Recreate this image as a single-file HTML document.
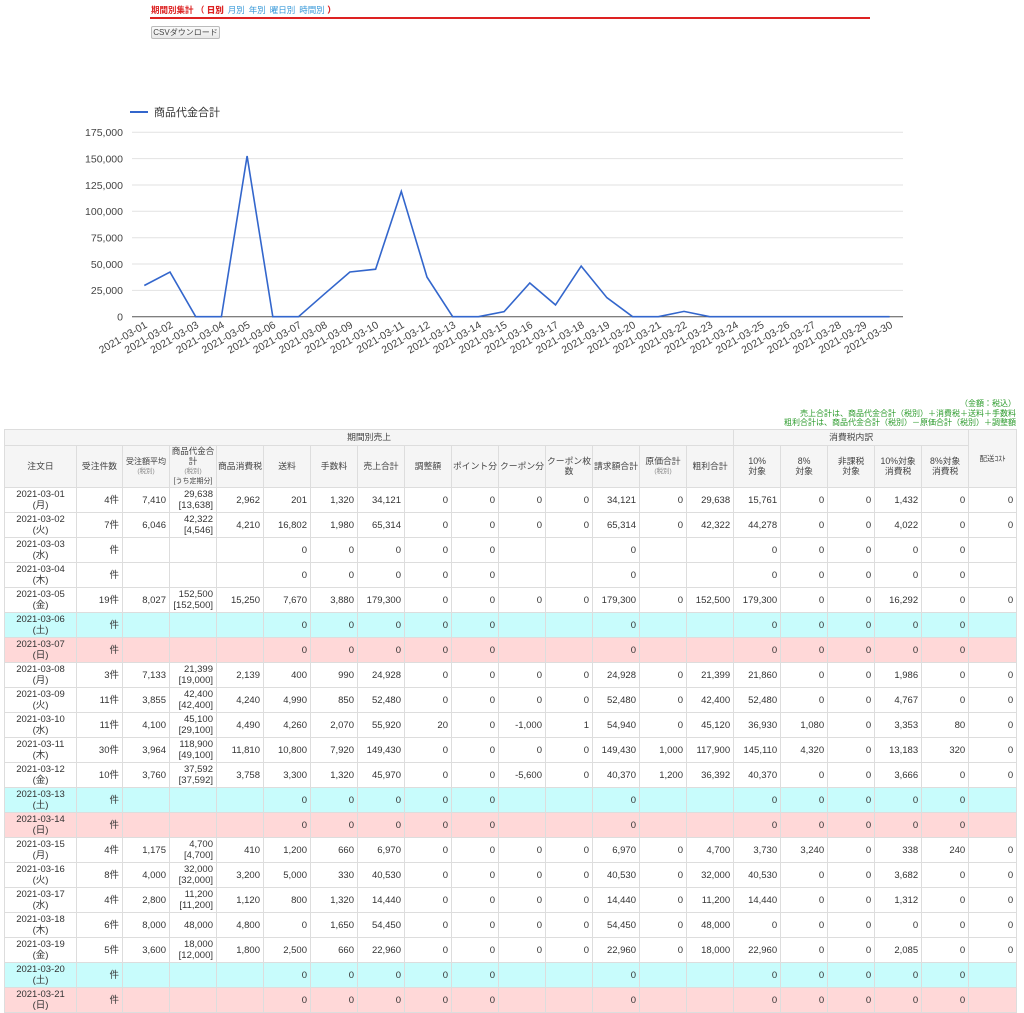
<!DOCTYPE html>
<html><head><meta charset="utf-8">
<style>
body{margin:0;background:#fff;width:1024px;height:990px;overflow:hidden;position:relative;font-family:"Liberation Sans","Noto Sans CJK JP",sans-serif;color:#333}
.nav{position:absolute;left:151px;top:4px;font-size:8.5px;font-weight:bold;color:#d22}
.nav span{color:#3a9ad9;font-weight:normal;margin-left:4px}
.nav b{color:#d22}
.redline{position:absolute;left:150px;top:17px;width:720px;height:2px;background:#d22}
.btn{position:absolute;left:151px;top:26px;width:67px;height:11px;border:1px solid #bbb;border-radius:2px;background:linear-gradient(#fafafa,#e8e8e8);font-size:8px;line-height:11px;text-align:center;color:#444}
.notes{position:absolute;right:8px;top:399px;text-align:right;font-size:8px;line-height:9.5px;color:#2a9a2a}
table{position:absolute;left:4px;top:429px;border-collapse:collapse;table-layout:fixed;width:1012px;font-size:9.5px}
td,th{border:1px solid #ddd;padding:0 3px;overflow:hidden;white-space:nowrap}
th{background:#f5f5f5;font-weight:normal;text-align:center;color:#444;line-height:9.5px;white-space:normal;font-size:8.8px;padding:0 1px}
td{text-align:right;line-height:11px}
td.d{text-align:center}
tr.r td{height:24px}
tr.sa td{background:#c8fcfc}
tr.su td{background:#ffd8d8}
small{font-size:6.5px;color:#888;line-height:8px}
</style></head><body>
<div class="nav">期間別集計 （ <b>日別</b><span>月別</span><span>年別</span><span>曜日別</span><span>時間別</span> <b>）</b></div>
<div class="redline"></div>
<div class="btn">CSVダウンロード</div>

<svg width="1024" height="380" style="position:absolute;left:0;top:0" font-family="Liberation Sans, sans-serif">
<line x1="130" y1="112" x2="148" y2="112" stroke="#3366cc" stroke-width="2"/>
<text x="154" y="116" font-size="11" fill="#333" font-family="Liberation Sans, Noto Sans CJK JP, sans-serif">商品代金合計</text>
<g stroke="#e2e2e2" stroke-width="1">
<line x1="132" x2="903" y1="290.4" y2="290.4"/><line x1="132" x2="903" y1="264" y2="264"/>
<line x1="132" x2="903" y1="237.7" y2="237.7"/><line x1="132" x2="903" y1="211.3" y2="211.3"/>
<line x1="132" x2="903" y1="185" y2="185"/><line x1="132" x2="903" y1="158.6" y2="158.6"/>
<line x1="132" x2="903" y1="132.3" y2="132.3"/>
</g>
<line x1="132" x2="903" y1="316.7" y2="316.7" stroke="#555" stroke-width="1"/>
<g font-size="10.5" fill="#444" text-anchor="end">
<text x="123" y="320.5">0</text><text x="123" y="294.2">25,000</text><text x="123" y="267.8">50,000</text>
<text x="123" y="241.5">75,000</text><text x="123" y="215.1">100,000</text><text x="123" y="188.8">125,000</text>
<text x="123" y="162.4">150,000</text><text x="123" y="136.1">175,000</text>
</g>
<polyline fill="none" stroke="#3366cc" stroke-width="1.6" points="144.3,285.5 170,272.1 195.7,316.7 221.4,316.7 247.1,156 272.8,316.7 298.5,316.7 324.2,294.2 349.9,272 375.6,269.2 401.3,191.4 427,277.1 452.7,316.7 478.4,316.7 504.1,311.7 529.8,283 555.5,304.9 581.2,266.1 606.9,297.7 632.6,316.7 658.3,316.7 684,311.4 709.7,316.7 735.4,316.7 761.1,316.7 786.8,316.7 812.5,316.7 838.2,316.7 863.9,316.7 889.6,316.7"/>
<g font-size="10.5" fill="#444" text-anchor="end">
<text transform="translate(148,327) rotate(-30)">2021-03-01</text>
<text transform="translate(173.7,327) rotate(-30)">2021-03-02</text>
<text transform="translate(199.4,327) rotate(-30)">2021-03-03</text>
<text transform="translate(225.1,327) rotate(-30)">2021-03-04</text>
<text transform="translate(250.8,327) rotate(-30)">2021-03-05</text>
<text transform="translate(276.5,327) rotate(-30)">2021-03-06</text>
<text transform="translate(302.2,327) rotate(-30)">2021-03-07</text>
<text transform="translate(327.9,327) rotate(-30)">2021-03-08</text>
<text transform="translate(353.6,327) rotate(-30)">2021-03-09</text>
<text transform="translate(379.3,327) rotate(-30)">2021-03-10</text>
<text transform="translate(405,327) rotate(-30)">2021-03-11</text>
<text transform="translate(430.7,327) rotate(-30)">2021-03-12</text>
<text transform="translate(456.4,327) rotate(-30)">2021-03-13</text>
<text transform="translate(482.1,327) rotate(-30)">2021-03-14</text>
<text transform="translate(507.8,327) rotate(-30)">2021-03-15</text>
<text transform="translate(533.5,327) rotate(-30)">2021-03-16</text>
<text transform="translate(559.2,327) rotate(-30)">2021-03-17</text>
<text transform="translate(584.9,327) rotate(-30)">2021-03-18</text>
<text transform="translate(610.6,327) rotate(-30)">2021-03-19</text>
<text transform="translate(636.3,327) rotate(-30)">2021-03-20</text>
<text transform="translate(662,327) rotate(-30)">2021-03-21</text>
<text transform="translate(687.7,327) rotate(-30)">2021-03-22</text>
<text transform="translate(713.4,327) rotate(-30)">2021-03-23</text>
<text transform="translate(739.1,327) rotate(-30)">2021-03-24</text>
<text transform="translate(764.8,327) rotate(-30)">2021-03-25</text>
<text transform="translate(790.5,327) rotate(-30)">2021-03-26</text>
<text transform="translate(816.2,327) rotate(-30)">2021-03-27</text>
<text transform="translate(841.9,327) rotate(-30)">2021-03-28</text>
<text transform="translate(867.6,327) rotate(-30)">2021-03-29</text>
<text transform="translate(893.3,327) rotate(-30)">2021-03-30</text>
</g>
</svg>

<div class="notes">（金額：税込）<br>売上合計は、商品代金合計（税別）＋消費税＋送料＋手数料<br>粗利合計は、商品代金合計（税別）－原価合計（税別）＋調整額</div>

<table>
<colgroup><col style="width:72px"><col style="width:46px"><col span="18" style="width:47px"><col style="width:48px"></colgroup>
<tr style="height:16px"><th colspan="15">期間別売上</th><th colspan="5">消費税内訳</th><th rowspan="2" style="font-size:7.5px">配送ｺｽﾄ</th></tr>
<tr style="height:42px"><th>注文日</th><th>受注件数</th><th style="font-size:8px">受注額平均<br><small>(税別)</small></th><th style="font-size:8.5px">商品代金合計<br><small>(税別)</small><br><span style="font-size:7px;line-height:8px">[うち定期分]</span></th><th>商品消費税</th><th>送料</th><th>手数料</th><th>売上合計</th><th>調整額</th><th>ポイント分</th><th>クーポン分</th><th>クーポン枚数</th><th>請求額合計</th><th>原価合計<br><small>(税別)</small></th><th>粗利合計</th><th>10%<br>対象</th><th>8%<br>対象</th><th>非課税<br>対象</th><th>10%対象<br>消費税</th><th>8%対象<br>消費税</th></tr>
<tr class="r"><td class="d">2021-03-01<br>(月)</td><td>4件</td><td>7,410</td><td>29,638<br>[13,638]</td><td>2,962</td><td>201</td><td>1,320</td><td>34,121</td><td>0</td><td>0</td><td>0</td><td>0</td><td>34,121</td><td>0</td><td>29,638</td><td>15,761</td><td>0</td><td>0</td><td>1,432</td><td>0</td><td>0</td></tr>
<tr class="r"><td class="d">2021-03-02<br>(火)</td><td>7件</td><td>6,046</td><td>42,322<br>[4,546]</td><td>4,210</td><td>16,802</td><td>1,980</td><td>65,314</td><td>0</td><td>0</td><td>0</td><td>0</td><td>65,314</td><td>0</td><td>42,322</td><td>44,278</td><td>0</td><td>0</td><td>4,022</td><td>0</td><td>0</td></tr>
<tr class="r"><td class="d">2021-03-03<br>(水)</td><td>件</td><td></td><td></td><td></td><td>0</td><td>0</td><td>0</td><td>0</td><td>0</td><td></td><td></td><td>0</td><td></td><td></td><td>0</td><td>0</td><td>0</td><td>0</td><td>0</td><td></td></tr>
<tr class="r"><td class="d">2021-03-04<br>(木)</td><td>件</td><td></td><td></td><td></td><td>0</td><td>0</td><td>0</td><td>0</td><td>0</td><td></td><td></td><td>0</td><td></td><td></td><td>0</td><td>0</td><td>0</td><td>0</td><td>0</td><td></td></tr>
<tr class="r"><td class="d">2021-03-05<br>(金)</td><td>19件</td><td>8,027</td><td>152,500<br>[152,500]</td><td>15,250</td><td>7,670</td><td>3,880</td><td>179,300</td><td>0</td><td>0</td><td>0</td><td>0</td><td>179,300</td><td>0</td><td>152,500</td><td>179,300</td><td>0</td><td>0</td><td>16,292</td><td>0</td><td>0</td></tr>
<tr class="r sa"><td class="d">2021-03-06<br>(土)</td><td>件</td><td></td><td></td><td></td><td>0</td><td>0</td><td>0</td><td>0</td><td>0</td><td></td><td></td><td>0</td><td></td><td></td><td>0</td><td>0</td><td>0</td><td>0</td><td>0</td><td></td></tr>
<tr class="r su"><td class="d">2021-03-07<br>(日)</td><td>件</td><td></td><td></td><td></td><td>0</td><td>0</td><td>0</td><td>0</td><td>0</td><td></td><td></td><td>0</td><td></td><td></td><td>0</td><td>0</td><td>0</td><td>0</td><td>0</td><td></td></tr>
<tr class="r"><td class="d">2021-03-08<br>(月)</td><td>3件</td><td>7,133</td><td>21,399<br>[19,000]</td><td>2,139</td><td>400</td><td>990</td><td>24,928</td><td>0</td><td>0</td><td>0</td><td>0</td><td>24,928</td><td>0</td><td>21,399</td><td>21,860</td><td>0</td><td>0</td><td>1,986</td><td>0</td><td>0</td></tr>
<tr class="r"><td class="d">2021-03-09<br>(火)</td><td>11件</td><td>3,855</td><td>42,400<br>[42,400]</td><td>4,240</td><td>4,990</td><td>850</td><td>52,480</td><td>0</td><td>0</td><td>0</td><td>0</td><td>52,480</td><td>0</td><td>42,400</td><td>52,480</td><td>0</td><td>0</td><td>4,767</td><td>0</td><td>0</td></tr>
<tr class="r"><td class="d">2021-03-10<br>(水)</td><td>11件</td><td>4,100</td><td>45,100<br>[29,100]</td><td>4,490</td><td>4,260</td><td>2,070</td><td>55,920</td><td>20</td><td>0</td><td>-1,000</td><td>1</td><td>54,940</td><td>0</td><td>45,120</td><td>36,930</td><td>1,080</td><td>0</td><td>3,353</td><td>80</td><td>0</td></tr>
<tr class="r"><td class="d">2021-03-11<br>(木)</td><td>30件</td><td>3,964</td><td>118,900<br>[49,100]</td><td>11,810</td><td>10,800</td><td>7,920</td><td>149,430</td><td>0</td><td>0</td><td>0</td><td>0</td><td>149,430</td><td>1,000</td><td>117,900</td><td>145,110</td><td>4,320</td><td>0</td><td>13,183</td><td>320</td><td>0</td></tr>
<tr class="r"><td class="d">2021-03-12<br>(金)</td><td>10件</td><td>3,760</td><td>37,592<br>[37,592]</td><td>3,758</td><td>3,300</td><td>1,320</td><td>45,970</td><td>0</td><td>0</td><td>-5,600</td><td>0</td><td>40,370</td><td>1,200</td><td>36,392</td><td>40,370</td><td>0</td><td>0</td><td>3,666</td><td>0</td><td>0</td></tr>
<tr class="r sa"><td class="d">2021-03-13<br>(土)</td><td>件</td><td></td><td></td><td></td><td>0</td><td>0</td><td>0</td><td>0</td><td>0</td><td></td><td></td><td>0</td><td></td><td></td><td>0</td><td>0</td><td>0</td><td>0</td><td>0</td><td></td></tr>
<tr class="r su"><td class="d">2021-03-14<br>(日)</td><td>件</td><td></td><td></td><td></td><td>0</td><td>0</td><td>0</td><td>0</td><td>0</td><td></td><td></td><td>0</td><td></td><td></td><td>0</td><td>0</td><td>0</td><td>0</td><td>0</td><td></td></tr>
<tr class="r"><td class="d">2021-03-15<br>(月)</td><td>4件</td><td>1,175</td><td>4,700<br>[4,700]</td><td>410</td><td>1,200</td><td>660</td><td>6,970</td><td>0</td><td>0</td><td>0</td><td>0</td><td>6,970</td><td>0</td><td>4,700</td><td>3,730</td><td>3,240</td><td>0</td><td>338</td><td>240</td><td>0</td></tr>
<tr class="r"><td class="d">2021-03-16<br>(火)</td><td>8件</td><td>4,000</td><td>32,000<br>[32,000]</td><td>3,200</td><td>5,000</td><td>330</td><td>40,530</td><td>0</td><td>0</td><td>0</td><td>0</td><td>40,530</td><td>0</td><td>32,000</td><td>40,530</td><td>0</td><td>0</td><td>3,682</td><td>0</td><td>0</td></tr>
<tr class="r"><td class="d">2021-03-17<br>(水)</td><td>4件</td><td>2,800</td><td>11,200<br>[11,200]</td><td>1,120</td><td>800</td><td>1,320</td><td>14,440</td><td>0</td><td>0</td><td>0</td><td>0</td><td>14,440</td><td>0</td><td>11,200</td><td>14,440</td><td>0</td><td>0</td><td>1,312</td><td>0</td><td>0</td></tr>
<tr class="r"><td class="d">2021-03-18<br>(木)</td><td>6件</td><td>8,000</td><td>48,000</td><td>4,800</td><td>0</td><td>1,650</td><td>54,450</td><td>0</td><td>0</td><td>0</td><td>0</td><td>54,450</td><td>0</td><td>48,000</td><td>0</td><td>0</td><td>0</td><td>0</td><td>0</td><td>0</td></tr>
<tr class="r"><td class="d">2021-03-19<br>(金)</td><td>5件</td><td>3,600</td><td>18,000<br>[12,000]</td><td>1,800</td><td>2,500</td><td>660</td><td>22,960</td><td>0</td><td>0</td><td>0</td><td>0</td><td>22,960</td><td>0</td><td>18,000</td><td>22,960</td><td>0</td><td>0</td><td>2,085</td><td>0</td><td>0</td></tr>
<tr class="r sa"><td class="d">2021-03-20<br>(土)</td><td>件</td><td></td><td></td><td></td><td>0</td><td>0</td><td>0</td><td>0</td><td>0</td><td></td><td></td><td>0</td><td></td><td></td><td>0</td><td>0</td><td>0</td><td>0</td><td>0</td><td></td></tr>
<tr class="r su"><td class="d">2021-03-21<br>(日)</td><td>件</td><td></td><td></td><td></td><td>0</td><td>0</td><td>0</td><td>0</td><td>0</td><td></td><td></td><td>0</td><td></td><td></td><td>0</td><td>0</td><td>0</td><td>0</td><td>0</td><td></td></tr>
</table>
</body></html>
